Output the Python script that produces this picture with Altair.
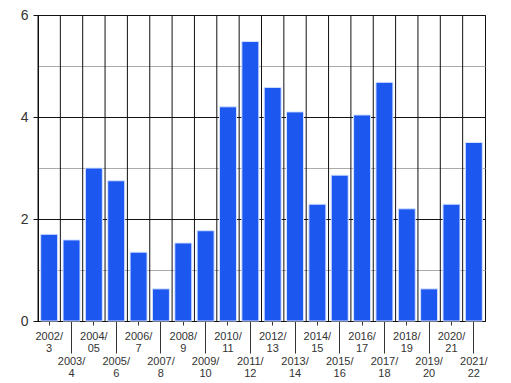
import altair as alt
import pandas as pd

periods = ["2002/3", "2003/4", "2004/05", "2005/6", "2006/7", "2007/8", "2008/9",
           "2009/10", "2010/11", "2011/12", "2012/13", "2013/14", "2014/15", "2015/16",
           "2016/17", "2017/18", "2018/19", "2019/20", "2020/21", "2021/22"]
values = [1.70, 1.59, 3.00, 2.75, 1.35, 0.63, 1.53, 1.77, 4.20, 5.48,
          4.58, 4.10, 2.29, 2.86, 4.04, 4.68, 2.20, 0.63, 2.29, 3.50]
y_ticks = [0, 1, 2, 3, 4, 5, 6]

df = pd.DataFrame({"period": periods, "value": values})

FONT = "Liberation Sans"
period_list = "[" + ",".join("'" + p + "'" for p in periods) + "]"
odd_test = f"indexof({period_list}, datum.value) % 2 == 1"

x_axis = alt.Axis(
    title=None,
    labelAngle=0,
    labelFont=FONT,
    labelFontSize=11,
    labelColor="#333",
    labelBaseline="top",
    labelLineHeight=12,
    labelExpr="[substring(datum.value, 0, indexof(datum.value, '/') + 1), substring(datum.value, indexof(datum.value, '/') + 1)]",
    tickColor="#333",
    tickSize={"condition": {"test": odd_test, "value": 32}, "value": 4},
    labelPadding={"condition": {"test": odd_test, "value": 2}, "value": 5},
    domainColor="#111",
    grid=False,
)

y_axis = alt.Axis(
    title=None,
    values=y_ticks,
    labelFont=FONT,
    labelFontSize=14,
    labelColor="#333",
    labelExpr="datum.value % 2 == 0 ? datum.label : ''",
    tickColor={"condition": {"test": "datum.value % 2 == 0", "value": "#111"}, "value": "transparent"},
    tickSize=5,
    labelPadding=5,
    domainColor="#111",
    grid=True,
    gridColor={"condition": {"test": "datum.value % 2 == 0", "value": "#111"}, "value": "#aaa"},
    gridWidth=1,
)

xscale = alt.Scale(paddingInner=0, paddingOuter=0)

bars = alt.Chart(df).mark_bar(
    color="#1c57f0", stroke="#d5e2ff", strokeWidth=1, width=alt.RelativeBandSize(0.76)
).encode(
    x=alt.X("period:N", sort=periods, scale=xscale, axis=x_axis),
    y=alt.Y("value:Q", scale=alt.Scale(domain=[0, 6], nice=False), axis=y_axis),
)

rules = alt.Chart(df).mark_rule(color="#111", strokeWidth=1).encode(
    x=alt.X("period:N", sort=periods, scale=xscale, axis=x_axis, bandPosition=0),
)

chart = alt.layer(rules, bars).properties(
    width=447,
    height=306,
    autosize=alt.AutoSizeParams(type="none"),
    padding={"left": 30, "top": 7, "right": 10, "bottom": 60},
).configure_view(stroke="#111", strokeWidth=1)

chart.save("out.html", embed_options={"renderer": "svg", "actions": False})
